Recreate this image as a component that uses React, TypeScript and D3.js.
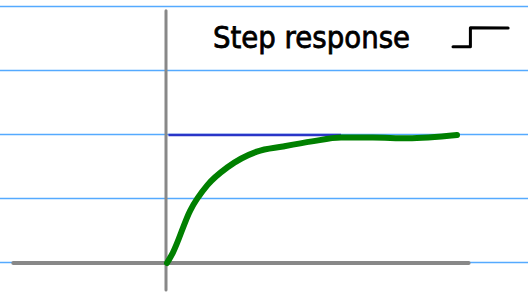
import * as React from 'react';
import * as d3 from 'd3';

// Step response samples (time, output)
const times = [0, 0.2, 0.8, 1.4, 2.1, 3.1, 4.0, 5.0, 6.0, 7.1, 8.3, 10];
const outputs = [0, 0.08, 0.41, 0.61, 0.75, 0.87, 0.91, 0.95, 0.98, 0.98, 0.975, 1.0];

// ruled notebook lines
const ruleValues = [0, 0.5, 1, 1.5, 2];

const finalValue = 1;
const finalLineEnd = 6;
const xAxisRange = [-5.3, 10.4];
const yAxisRange = [-0.21, 1.97];

const titleText = 'Step response';
// little step glyph next to the title
const stepGlyph: [number, number][] = [
  [0, 0.74],
  [0.6, 0.74],
  [0.6, 1.13],
  [1.9, 1.12],
];

const W = 528;
const H = 295;

const x = d3.scaleLinear().domain([0, 10]).range([167, 457]);
const y = d3.scaleLinear().domain([0, 1]).range([263, 135]);

// glyph positioned in its own small frame
const gx = d3.scaleLinear().domain([0, 1]).range([453, 482]);
const gy = d3.scaleLinear().domain([0, 1]).range([83, 34]);

const App: React.FC = () => {
  const data = times.map((t, i) => [t, outputs[i]] as [number, number]);

  const curve = d3
    .line<[number, number]>()
    .x((d) => x(d[0]))
    .y((d) => y(d[1]))
    .curve(d3.curveMonotoneX)(data);

  const glyph = d3
    .line<[number, number]>()
    .x((d) => gx(d[0]))
    .y((d) => gy(d[1]))(stepGlyph);

  return (
    <svg
      width={W}
      height={H}
      style={{ position: 'absolute', left: 0, top: 0, background: '#ffffff' }}
    >
      {/* Ruled lines */}
      {ruleValues.map((v) => (
        <line
          key={v}
          x1={0}
          x2={W}
          y1={y(v) - 0.5}
          y2={y(v) - 0.5}
          stroke="#55aaff"
          strokeWidth={1.5}
        />
      ))}
      {/* Axes */}
      <line
        x1={x(0) - 1}
        x2={x(0) - 1}
        y1={y(yAxisRange[1])}
        y2={y(yAxisRange[0])}
        stroke="#888888"
        strokeWidth={3}
        strokeLinecap="round"
      />
      <line
        x1={x(xAxisRange[0])}
        x2={x(xAxisRange[1])}
        y1={y(0)}
        y2={y(0)}
        stroke="#888888"
        strokeWidth={4}
        strokeLinecap="round"
      />
      {/* Final value */}
      <line
        x1={x(0.05)}
        x2={x(finalLineEnd)}
        y1={y(finalValue)}
        y2={y(finalValue)}
        stroke="#2a35c8"
        strokeWidth={2.5}
      />
      {/* Response */}
      <path
        d={curve ?? ''}
        fill="none"
        stroke="#008000"
        strokeWidth={6}
        strokeLinecap="round"
        strokeLinejoin="round"
      />
      {/* Title */}
      <text
        x={213}
        y={48}
        fontFamily="'DejaVu Sans', sans-serif"
        fontSize={30}
        textLength={197}
        lengthAdjust="spacingAndGlyphs"
        fill="#000000"
        stroke="#000000"
        strokeWidth={0.8}
      >
        {titleText}
      </text>
      <path
        d={glyph ?? ''}
        fill="none"
        stroke="#000000"
        strokeWidth={3}
        strokeLinecap="round"
        strokeLinejoin="round"
      />
    </svg>
  );
};

export default App;
